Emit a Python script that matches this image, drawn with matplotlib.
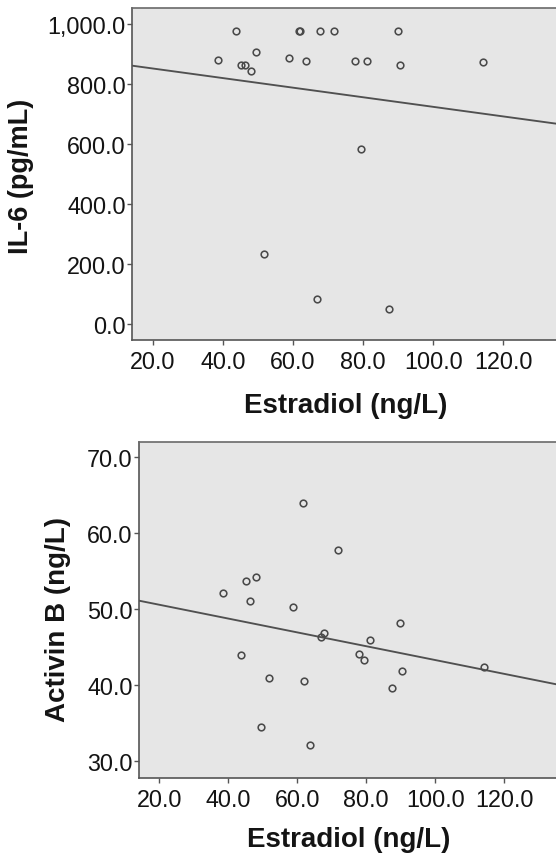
import matplotlib
matplotlib.use("Agg")
import matplotlib.pyplot as plt
import numpy as np
from matplotlib.ticker import FuncFormatter

# ---- data ----
estradiol = [38.5, 43.7, 45.1, 46.4, 48.1, 49.5, 51.8, 58.8, 61.8, 62.1, 63.8,
             66.8, 67.8, 71.8, 77.8, 79.4, 81.1, 87.5, 89.8, 90.5, 114.2]
il6 = [881, 975, 862, 862, 843, 906, 232, 886, 975, 975, 877,
       84, 975, 975, 877, 584, 877, 50, 975, 863, 872]
activin_b = [52.1, 43.9, 53.7, 51.0, 54.2, 34.4, 40.9, 50.3, 64.0, 40.5, 32.1,
             46.3, 46.8, 57.8, 44.1, 43.3, 45.9, 39.6, 48.1, 41.8, 42.35]

# fitted regression lines (intercept, slope)
il6_fit = (883.4, -1.598)
activin_fit = (52.38, -0.0912)

x_ticks = [20, 40, 60, 80, 100, 120]
il6_ticks = [0, 200, 400, 600, 800, 1000]
activin_ticks = [30, 40, 50, 60, 70]

x_label = "Estradiol (ng/L)"
il6_label = "IL-6 (pg/mL)"
activin_label = "Activin B (ng/L)"

# ---- styling ----
W, H = 556, 854
FONT = "Liberation Sans"
BG = "#e6e6e6"
EDGE = "#555555"
TXT = "#141414"
plt.rcParams["font.family"] = [FONT, "DejaVu Sans"]

fig = plt.figure(figsize=(W / 100, H / 100), dpi=100)
fig.patch.set_facecolor("white")

fmt = FuncFormatter(lambda v, p: f"{v:,.1f}")
XLIM = (14, 135)


def make_axes(rect, yvals, ylim, yticks, fit):
    ax = fig.add_axes(rect)
    ax.set_facecolor(BG)
    ax.set_xlim(*XLIM)
    ax.set_ylim(*ylim)
    xs = np.array(XLIM, dtype=float)
    ax.plot(xs, fit[0] + fit[1] * xs, color="#505050", lw=1.35, zorder=2)
    ax.plot(estradiol, yvals, linestyle="none", marker="o", ms=4.8,
            mfc="none", mec="#4a4a4a", mew=1.15, zorder=3)
    ax.set_xticks(x_ticks)
    ax.set_yticks(yticks)
    ax.xaxis.set_major_formatter(fmt)
    ax.yaxis.set_major_formatter(fmt)
    ax.tick_params(axis="both", direction="out", length=3.6, width=1.0,
                   color=EDGE, labelsize=16.8, labelcolor=TXT)
    ax.tick_params(axis="x", pad=3.5)
    ax.tick_params(axis="y", pad=0.6)
    for s in ("left", "bottom", "top"):
        ax.spines[s].set_color(EDGE)
        ax.spines[s].set_linewidth(1.2)
    ax.spines["top"].set_color("#6a6a6a")
    ax.spines["right"].set_visible(False)
    return ax


# top panel
l1, b1, t1 = 131.7, 340.7, 9.3
ax1 = make_axes([l1 / W, 1 - b1 / H, (W - l1) / W, (b1 - t1) / H],
                il6, (-52.3, 1052), il6_ticks, il6_fit)
# bottom panel
l2, b2, t2 = 138.5, 779.0, 442.7
ax2 = make_axes([l2 / W, 1 - b2 / H, (W - l2) / W, (b2 - t2) / H],
                activin_b, (27.7, 72.06), activin_ticks, activin_fit)

# axis labels
fig.text(346 / W, 1 - 413 / H, x_label, ha="center", va="baseline",
         fontsize=20, fontweight="bold", color=TXT)
fig.text(349 / W, 1 - 847.5 / H, x_label, ha="center", va="baseline",
         fontsize=20, fontweight="bold", color=TXT)
fig.text(21.5 / W, 1 - 176 / H, il6_label, ha="center", va="center",
         rotation=90, fontsize=19.5, fontweight="bold", color=TXT)
fig.text(58 / W, 1 - 619 / H, activin_label, ha="center", va="center",
         rotation=90, fontsize=20, fontweight="bold", color=TXT)

fig.savefig("out.png", dpi=100)
